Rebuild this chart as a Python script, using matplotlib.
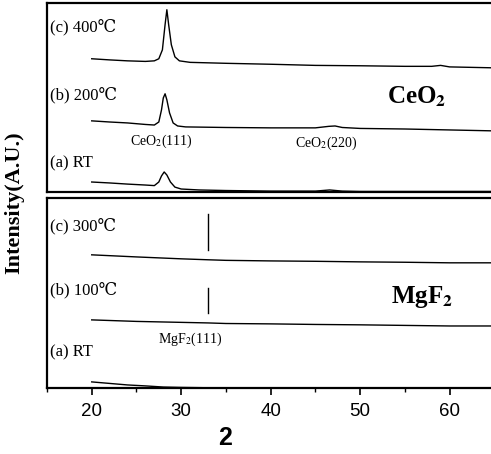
import matplotlib.pyplot as plt
from matplotlib.ticker import MultipleLocator

plt.rcParams['mathtext.fontset'] = 'stix'

# CeO2 patterns (2theta in degrees, intensity in arbitrary units)
ceo2_400_x = [20, 22, 24, 26, 27, 27.5, 27.9, 28.2, 28.4, 28.6, 28.9, 29.3, 29.8, 31, 35, 40, 45, 50, 55, 58, 59, 60, 65]
ceo2_400_y = [70.4, 69.8, 69.3, 69.0, 69.3, 70.4, 75.1, 88.4, 96.3, 88.4, 77.8, 71.4, 69.3, 68.5, 68.0, 67.5, 66.9, 66.7, 66.4, 66.4, 66.9, 66.1, 65.6]

ceo2_200_x = [20, 22, 24, 26, 27, 27.5, 27.8, 28.0, 28.2, 28.4, 28.7, 29.1, 29.6, 30.5, 35, 40, 45, 46.5, 47.2, 48, 50, 55, 60, 65]
ceo2_200_y = [37.6, 37.0, 36.5, 35.7, 35.4, 37.0, 43.4, 49.7, 51.9, 48.7, 41.8, 36.5, 34.9, 34.4, 34.1, 33.9, 33.9, 34.7, 34.9, 34.1, 33.6, 33.3, 32.8, 32.3]

ceo2_rt_x = [20, 22, 24, 26, 27, 27.5, 27.8, 28.1, 28.4, 28.8, 29.3, 30, 32, 35, 40, 45, 46.6, 48, 50, 55, 60, 65]
ceo2_rt_y = [5.3, 4.8, 4.2, 3.7, 3.4, 5.3, 8.5, 10.6, 9.0, 5.3, 2.6, 1.6, 1.1, 0.8, 0.5, 0.5, 1.1, 0.5, 0.3, 0.3, 0.3, 0.3]

# MgF2 patterns
mgf2_x = [20, 25, 30, 33, 35, 40, 45, 50, 55, 60, 65]
mgf2_300_y = [70.0, 68.9, 67.9, 67.4, 67.1, 66.8, 66.6, 66.3, 66.1, 65.8, 65.8]
mgf2_100_y = [35.8, 35.0, 34.5, 34.2, 33.9, 33.7, 33.4, 33.2, 32.9, 32.6, 32.6]
mgf2_rt_x = [20, 22, 24, 26, 28, 30, 35, 40, 50, 60, 65]
mgf2_rt_y = [3.2, 2.4, 1.6, 1.1, 0.5, 0.3, 0.0, 0.0, 0.0, 0.0, 0.0]

# MgF2(111) marker segments (x, y_low, y_high)
mgf2_mark_x = 33.0
mgf2_mark_segs = [(72.6, 91.6), (39.5, 52.6)]

serif = ['Liberation Serif', 'DejaVu Serif']

fig = plt.figure(figsize=(4.91, 4.54), dpi=100)
ax1 = fig.add_axes([0.0957, 0.577, 0.911, 0.417])
ax2 = fig.add_axes([0.0957, 0.1454, 0.911, 0.419])

for ax in (ax1, ax2):
    ax.set_xlim(15, 65)
    ax.set_ylim(0, 100)
    ax.set_yticks([])
    for s in ax.spines.values():
        s.set_linewidth(1.6)

ax1.plot(ceo2_400_x, ceo2_400_y, color='black', lw=1.0)
ax1.plot(ceo2_200_x, ceo2_200_y, color='black', lw=1.0)
ax1.plot(ceo2_rt_x, ceo2_rt_y, color='black', lw=1.0)
ax1.set_xticks([])

ax2.plot(mgf2_x, mgf2_300_y, color='black', lw=1.0)
ax2.plot(mgf2_x, mgf2_100_y, color='black', lw=1.0)
ax2.plot(mgf2_rt_x, mgf2_rt_y, color='black', lw=1.0)
for lo, hi in mgf2_mark_segs:
    ax2.plot([mgf2_mark_x, mgf2_mark_x], [lo, hi], color='black', lw=1.0)

ax2.xaxis.set_major_locator(MultipleLocator(10))
ax2.xaxis.set_minor_locator(MultipleLocator(5))
ax2.tick_params(axis='x', which='major', direction='out', length=5, width=1.2, pad=6)
ax2.tick_params(axis='x', which='minor', direction='out', length=3, width=1.0)
for lab in ax2.get_xticklabels():
    lab.set_fontfamily('Liberation Sans')
    lab.set_fontsize(13.5)

ax2.set_xlabel('2', fontsize=18, fontweight='bold', family='Liberation Sans')
ax2.xaxis.set_label_coords(0.398, -0.2)

# sample labels
ax1.text(15.3, 87.3, '(c) 400℃', family=serif, fontsize=12, va='center')
ax1.text(15.3, 51.3, '(b) 200℃', family=serif, fontsize=12, va='center')
ax1.text(15.3, 15.3, '(a) RT', family=serif, fontsize=12, va='center')
ax1.text(53.0, 50.3, r'CeO$_\mathbf{2}$', family=serif, fontsize=18, fontweight='bold', va='center')
ax1.text(24.3, 27.0, r'CeO$_2$(111)', family=serif, fontsize=10, va='center')
ax1.text(42.7, 25.9, r'CeO$_2$(220)', family=serif, fontsize=10, va='center')

ax2.text(15.3, 85.3, '(c) 300℃', family=serif, fontsize=12, va='center')
ax2.text(15.3, 51.6, '(b) 100℃', family=serif, fontsize=12, va='center')
ax2.text(15.3, 18.9, '(a) RT', family=serif, fontsize=12, va='center')
ax2.text(53.5, 47.9, r'MgF$_\mathbf{2}$', family=serif, fontsize=18, fontweight='bold', va='center')
ax2.text(27.4, 25.8, r'MgF$_2$(111)', family=serif, fontsize=10, va='center')

fig.text(0.03, 0.553, 'Intensity(A.U.)', rotation=90, family=serif, fontsize=16,
         fontweight='bold', ha='center', va='center')

fig.savefig('out.png', dpi=100)
